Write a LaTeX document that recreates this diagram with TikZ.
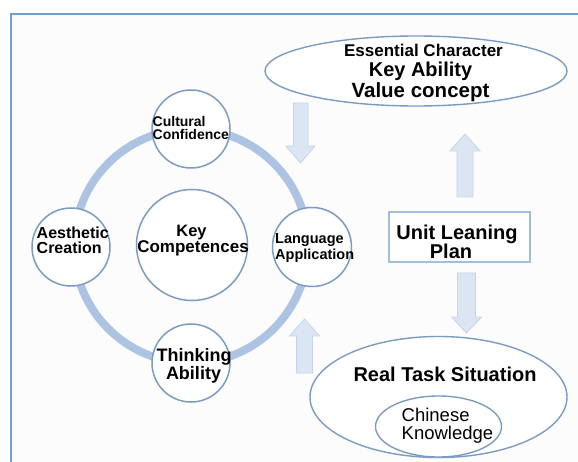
\documentclass[tikz,border=0pt]{standalone}
\usepackage{fontspec}
\setmainfont{Liberation Sans}
\usetikzlibrary{shapes.geometric}
\definecolor{framec}{HTML}{6F9FCF}
\definecolor{bgc}{HTML}{FCFCFC}
\definecolor{ringc}{HTML}{ADC3E2}
\definecolor{edgec}{HTML}{7B9CC0}
\definecolor{rectc}{HTML}{A3BEDB}
\definecolor{arrfill}{HTML}{DCE6F2}
\definecolor{arrdraw}{HTML}{C4D5EA}
\tikzset{
  bubble/.style={circle, draw=edgec, line width=1.5pt, fill=white, inner sep=0pt},
  oval/.style={ellipse, draw=edgec, line width=1.4pt, fill=white, inner sep=0pt},
  lbl/.style={anchor=base, inner sep=0pt, text=black},
  lbll/.style={anchor=base west, inner sep=0pt, text=black},
  blockarr/.style={fill=arrfill, draw=arrdraw, line width=0.8pt, line join=miter},
  bx/.style={font=\bfseries\fontsize{#1}{#1}\selectfont},
  rg/.style={font=\fontsize{#1}{#1}\selectfont}
}
\begin{document}
\begin{tikzpicture}[x=1pt,y=-1pt]
\useasboundingbox (0,0) rectangle (578,462);
\clip (0,0) rectangle (578,462);
% frame
\fill[bgc] (11,14) rectangle (600,490);
\draw[framec, line width=1.6pt] (11,490) -- (11,14) -- (600,14);
% ring
\draw[ringc, line width=8pt] (191,246) circle (117);
% circles
\node[bubble, minimum size=78pt] (cc) at (191,129) {};
\node[bubble, minimum size=78pt] (ae) at (71,247) {};
\node[bubble, minimum size=111pt] (kc) at (192,245) {};
\node[bubble, minimum size=79pt] (la) at (312,247) {};
\node[bubble, minimum size=78pt] (ta) at (191,363) {};
% circle texts
\node[lbll, bx=14] (cct1) at (152.5,126.7) {Cultural};
\node[lbll, bx=14] (cct2) at (152.5,139.3) {Confidence};
\node[lbll, bx=16] (aet1) at (36.5,239) {Aesthetic};
\node[lbll, bx=16] (aet2) at (36.5,254) {Creation};
\node[lbl, bx=16.5] (kct1) at (191.5,237) {Key};
\node[lbl, bx=17] (kct2) at (193,253) {Competences};
\node[lbll, bx=14.5] (lat1) at (275,243.3) {Language};
\node[lbll, bx=14.5] (lat2) at (275,259.3) {Application};
\node[lbl, bx=18] (tat1) at (194,361) {Thinking};
\node[lbl, bx=18] (tat2) at (193.5,379) {Ability};
% top ellipse
\node[oval, minimum width=302pt, minimum height=70pt] (top) at (416,71) {};
\node[lbl, bx=17] (tt1) at (423.5,57) {Essential Character};
\node[lbl, bx=20] (tt2) at (420.5,77) {Key Ability};
\node[lbl, bx=20.5] (tt3) at (420.5,98) {Value concept};
% unit plan
\node[draw=rectc, line width=1.4pt, fill=white, minimum width=141pt, minimum height=50pt, inner sep=0pt] (plan) at (459.5,237) {};
\node[lbl, bx=20] (pt1) at (457,239.3) {Unit Leaning};
\node[lbl, bx=20] (pt2) at (451,258.3) {Plan};
% bottom ellipses
\node[oval, minimum width=257pt, minimum height=121pt] (task) at (438.5,397) {};
\node[lbl, bx=20] (tk) at (445,381.7) {Real Task Situation};
\node[oval, minimum width=126pt, minimum height=61pt] (know) at (438.5,426.5) {};
\node[lbll, rg=18.5] (kn1) at (401.5,421.7) {Chinese};
\node[lbll, rg=18.5] (kn2) at (401.5,439.3) {Knowledge};
% block arrows
\path[blockarr] (293.5,103) -- (308,103) -- (308,146) -- (315,146) -- (300.5,163) -- (286,146) -- (293.5,146) -- cycle;
\path[blockarr] (457,197) -- (473,197) -- (473,151) -- (480,151) -- (465,134) -- (450,151) -- (457,151) -- cycle;
\path[blockarr] (457.5,273) -- (475.5,273) -- (475.5,317) -- (481.5,317) -- (466.5,333) -- (451.5,317) -- (457.5,317) -- cycle;
\path[blockarr] (296.5,373) -- (312.5,373) -- (312.5,336) -- (319.5,336) -- (304.5,319) -- (289.5,336) -- (296.5,336) -- cycle;
\end{tikzpicture}
\end{document}
